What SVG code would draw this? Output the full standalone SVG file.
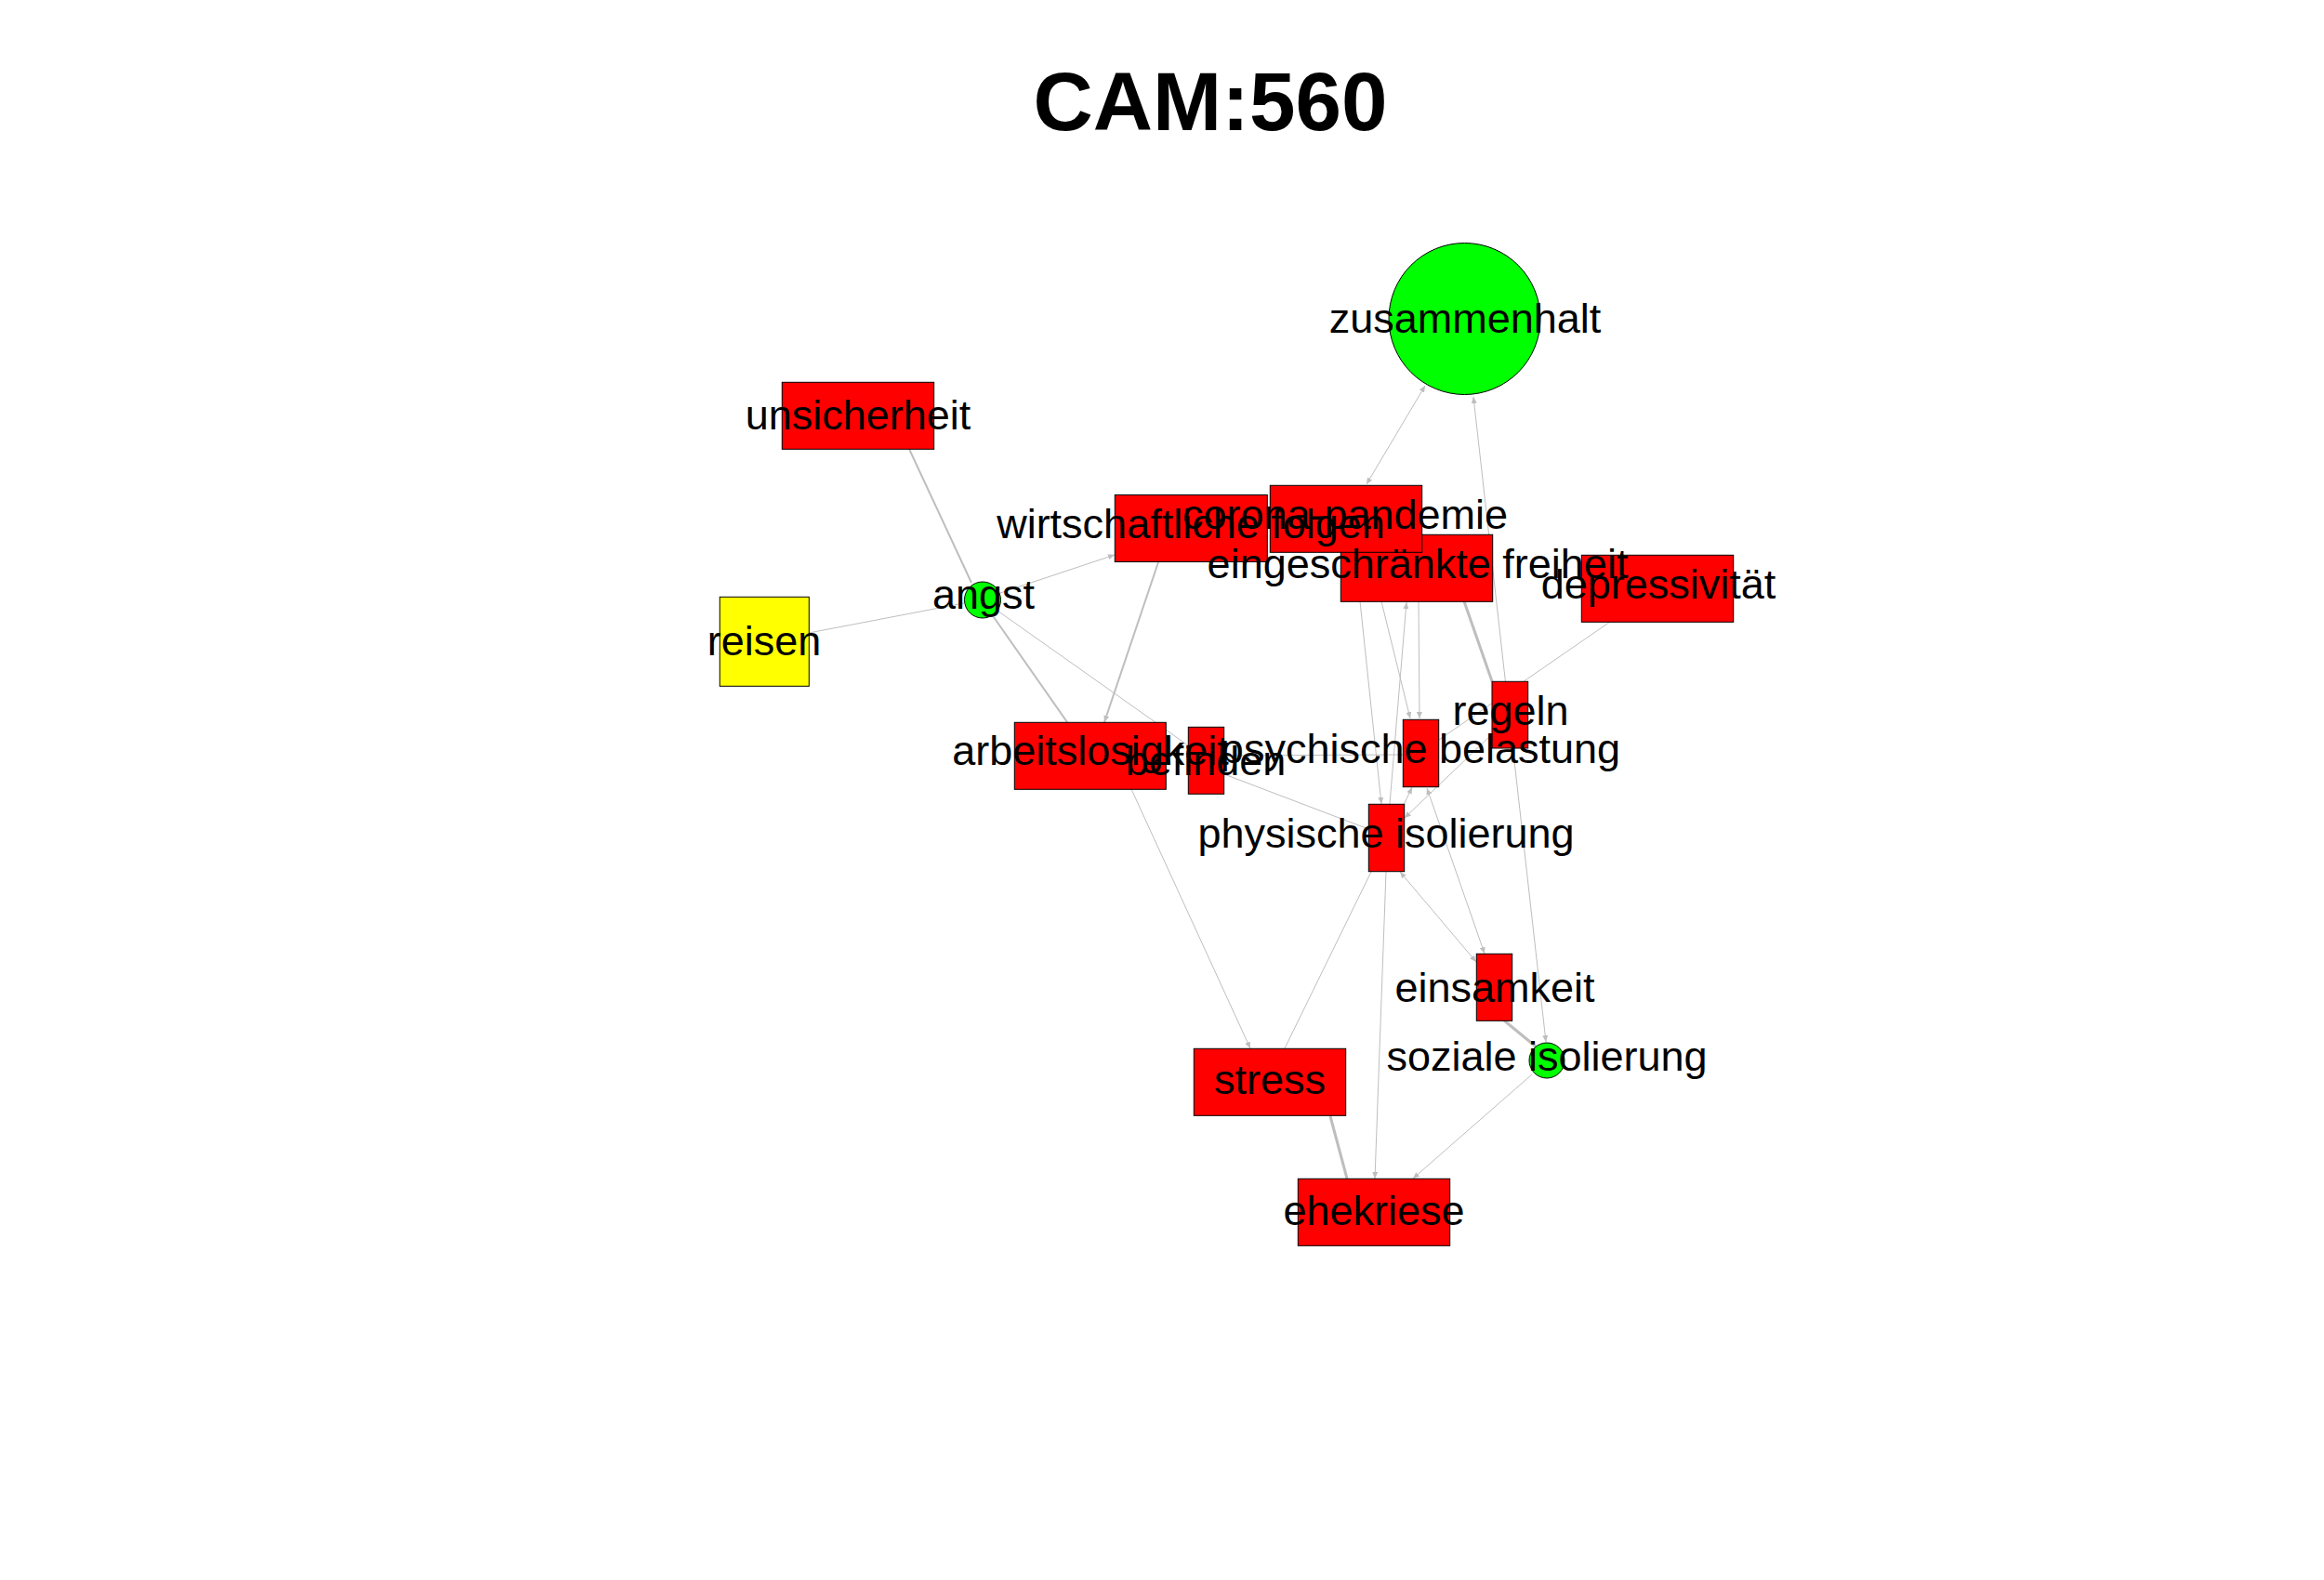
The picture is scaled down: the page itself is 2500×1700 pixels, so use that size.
<svg xmlns="http://www.w3.org/2000/svg" width="2500" height="1700" viewBox="0 0 2500 1700">
<style>
.e{fill:none;stroke:#bebebe;stroke-width:1}
.t2{stroke-width:2}
.t3{stroke-width:3}
.box{stroke:#000;stroke-width:1}
.red{fill:#ff0000}
.grn{fill:#00ff00}
.yel{fill:#ffff00}
.lbl{font-family:"Liberation Sans",Arial,sans-serif;font-size:45px;fill:#000;text-anchor:middle}
.title{font-family:"Liberation Sans",Arial,sans-serif;font-size:89px;font-weight:bold;fill:#000;text-anchor:middle}
</style>
<defs>
<marker id="arr" markerUnits="userSpaceOnUse" markerWidth="8" markerHeight="6" refX="7" refY="3" orient="auto-start-reverse">
<path d="M0,0 L7,3 L0,6 z" fill="#bebebe"/>
</marker>
</defs>
<rect width="2500" height="1700" fill="#fff"/>
<text class="title" x="1302" y="140">CAM:560</text>
<g id="edges">
<line class="e t2" x1="978" y1="483" x2="1045" y2="627"/>
<line class="e t2" x1="1069" y1="664" x2="1148" y2="777"/>
<line class="e" x1="870" y1="681" x2="1037" y2="649"/>
<line class="e" x1="1076" y1="638" x2="1199" y2="597" marker-end="url(#arr)"/>
<line class="e" x1="1073" y1="657" x2="1278" y2="802"/>
<line class="e t2" x1="1246" y1="605" x2="1188" y2="777" marker-end="url(#arr)"/>
<line class="e" x1="1217" y1="849" x2="1345" y2="1128" marker-end="url(#arr)"/>
<line class="e" x1="1475" y1="938" x2="1382" y2="1128"/>
<line class="e t3" x1="1431" y1="1201" x2="1449" y2="1268"/>
<line class="e" x1="1491" y1="938" x2="1479" y2="1268" marker-end="url(#arr)"/>
<line class="e" x1="1648" y1="1156" x2="1520" y2="1268" marker-end="url(#arr)"/>
<line class="e t3" x1="1618" y1="1098" x2="1652" y2="1126"/>
<line class="e" x1="1585" y1="427" x2="1663" y2="1121" marker-start="url(#arr)" marker-end="url(#arr)"/>
<line class="e" x1="1533" y1="415" x2="1470" y2="521" marker-start="url(#arr)" marker-end="url(#arr)"/>
<line class="e" x1="1463" y1="647" x2="1486" y2="865" marker-end="url(#arr)"/>
<line class="e" x1="1486" y1="647" x2="1517" y2="773" marker-end="url(#arr)"/>
<line class="e" x1="1495" y1="865" x2="1513" y2="648" marker-end="url(#arr)"/>
<line class="e" x1="1526" y1="647" x2="1527" y2="773" marker-end="url(#arr)"/>
<line class="e t3" x1="1575" y1="647" x2="1605" y2="733"/>
<line class="e" x1="1732" y1="669" x2="1548" y2="796"/>
<line class="e" x1="1605" y1="790" x2="1511" y2="880" marker-end="url(#arr)"/>
<line class="e" x1="1510" y1="866" x2="1519" y2="847" marker-end="url(#arr)"/>
<line class="e" x1="1535" y1="848" x2="1597" y2="1026" marker-start="url(#arr)" marker-end="url(#arr)"/>
<line class="e" x1="1506" y1="938" x2="1588" y2="1035" marker-start="url(#arr)" marker-end="url(#arr)"/>
<line class="e" x1="1317" y1="833" x2="1472" y2="892"/>
<line class="e" x1="1317" y1="813" x2="1509" y2="812"/>
</g>
<g id="nodes">
<g id="n-zusammenhalt"><circle class="box grn" cx="1575.5" cy="343" r="81.5"/></g>
<g id="n-unsicherheit"><rect class="box red" x="841.3" y="411.3" width="163.4" height="72"/></g>
<g id="n-wirtschaftliche-folgen"><rect class="box red" x="1199.3" y="532.5" width="164" height="72"/></g>
<g id="n-eingeschraenkte-freiheit"><rect class="box red" x="1442.3" y="575.3" width="163.4" height="72"/></g>
<g id="n-corona-pandemie"><rect class="box red" x="1366.3" y="522.3" width="163.4" height="72"/></g>
<g id="n-depressivitaet"><rect class="box red" x="1701.3" y="597.3" width="163.4" height="72"/></g>
<g id="n-angst"><circle class="box grn" cx="1057" cy="645.5" r="19.5"/></g>
<g id="n-reisen"><rect class="box yel" x="774.3" y="642.3" width="96" height="96"/></g>
<g id="n-arbeitslosigkeit"><rect class="box red" x="1091.3" y="777.3" width="163" height="72"/></g>
<g id="n-befinden"><rect class="box red" x="1278.3" y="782.3" width="38.4" height="72"/></g>
<g id="n-psychische-belastung"><rect class="box red" x="1509.3" y="774.3" width="38.4" height="72.4"/></g>
<g id="n-regeln"><rect class="box red" x="1605" y="733.3" width="38.7" height="71.7"/></g>
<g id="n-physische-isolierung"><rect class="box red" x="1472.3" y="865.3" width="38.4" height="72.4"/></g>
<g id="n-einsamkeit"><rect class="box red" x="1588.3" y="1026.3" width="38.4" height="72"/></g>
<g id="n-soziale-isolierung"><circle class="box grn" cx="1664" cy="1141" r="19"/></g>
<g id="n-stress"><rect class="box red" x="1284.3" y="1128.3" width="163.4" height="72"/></g>
<g id="n-ehekriese"><rect class="box red" x="1396.3" y="1268.3" width="163.4" height="72"/></g>
</g>
<g id="labels">
<text id="l-zusammenhalt" class="lbl" x="1576" y="358">zusammenhalt</text>
<text id="l-unsicherheit" class="lbl" x="923" y="462">unsicherheit</text>
<text id="l-wirtschaftliche-folgen" class="lbl" x="1281" y="579">wirtschaftliche folgen</text>
<text id="l-corona-pandemie" class="lbl" x="1447" y="569">corona-pandemie</text>
<text id="l-eingeschraenkte-freiheit" class="lbl" x="1525" y="622">eingeschränkte freiheit</text>
<text id="l-depressivitaet" class="lbl" x="1784" y="644">depressivität</text>
<text id="l-angst" class="lbl" x="1058" y="655">angst</text>
<text id="l-reisen" class="lbl" x="822" y="705">reisen</text>
<text id="l-arbeitslosigkeit" class="lbl" x="1173" y="823">arbeitslosigkeit</text>
<text id="l-befinden" class="lbl" x="1297" y="834">befinden</text>
<text id="l-psychische-belastung" class="lbl" x="1528" y="821">psychische belastung</text>
<text id="l-regeln" class="lbl" x="1625" y="780">regeln</text>
<text id="l-physische-isolierung" class="lbl" x="1491" y="912">physische isolierung</text>
<text id="l-einsamkeit" class="lbl" x="1608" y="1078">einsamkeit</text>
<text id="l-soziale-isolierung" class="lbl" x="1664" y="1152">soziale isolierung</text>
<text id="l-stress" class="lbl" x="1366" y="1177">stress</text>
<text id="l-ehekriese" class="lbl" x="1478" y="1318">ehekriese</text>
</g>
</svg>
